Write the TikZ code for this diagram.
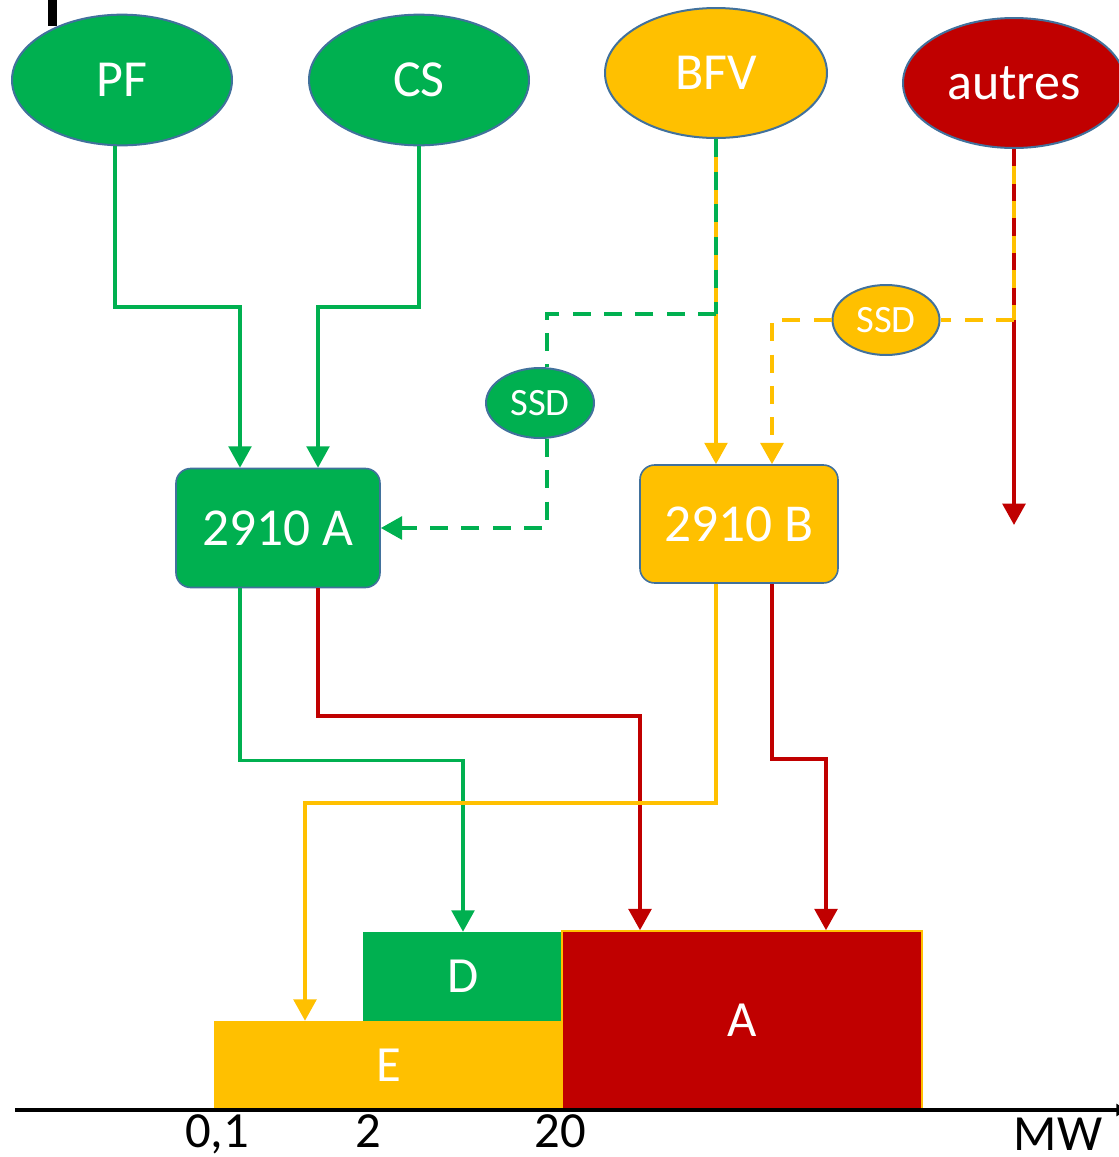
\documentclass[tikz,border=0pt]{standalone}
\usepackage{fontspec}
\setmainfont{Carlito}
\usetikzlibrary{shapes.geometric,arrows.meta,calc}
\definecolor{cgreen}{HTML}{00B050}
\definecolor{cyellow}{HTML}{FFC000}
\definecolor{cred}{HTML}{C00000}
\definecolor{cborder}{HTML}{41719C}
\begin{document}
\begin{tikzpicture}[x=0.75pt,y=-0.75pt,
  oval/.style={ellipse,draw=cborder,line width=1.5pt,text=white,inner sep=0pt,
    minimum width=165pt,minimum height=98pt,font=\fontsize{39}{42}\selectfont},
  ssd/.style={ellipse,draw=cborder,line width=1.5pt,text=white,inner sep=0pt,
    minimum width=81pt,minimum height=52.5pt,font=\fontsize{29}{32}\selectfont},
  regbox/.style={rectangle,rounded corners=11pt,draw=cborder,line width=1.2pt,text=white,
    inner sep=0pt,font=\fontsize{40}{44}\selectfont},
  blk/.style={rectangle,inner sep=0pt,text=white,font=\fontsize{38}{40}\selectfont},
  axlbl/.style={anchor=base,inner sep=0pt,text=black,font=\fontsize{38}{40}\selectfont},
  tip/.style={-{Triangle[width=17pt,length=16pt]}},
  gline/.style={draw=cgreen,line width=2.4pt},
  yline/.style={draw=cyellow,line width=2.6pt},
  rline/.style={draw=cred,line width=2.8pt},
  gdash/.style={draw=cgreen,line width=3.2pt,dash pattern=on 13.5pt off 10pt},
  ydash/.style={draw=cyellow,line width=3.2pt,dash pattern=on 13.5pt off 10pt},
]
\useasboundingbox (0,0) rectangle (1119,1157);

% black mark top-left
\fill[black] (48,0) rectangle (57,26);

% source ellipses
\node[oval,fill=cgreen] (PF) at (122,80) {PF};
\node[oval,fill=cgreen] (CS) at (419,80) {CS};
\node[oval,fill=cyellow,minimum width=166.5pt,minimum height=97.5pt] (BFV) at (716,73) {BFV};
\node[oval,fill=cred,minimum width=166.5pt,minimum height=97.5pt] (autres) at (1014,83) {autres};

% regulation boxes
\node[regbox,fill=cgreen,minimum width=153pt,minimum height=89.25pt] (A2910) at (278,528) {2910 A};
\node[regbox,fill=cyellow,minimum width=148.5pt,minimum height=88.5pt] (B2910) at (739,524) {2910 B};

% SSD ellipses
\node[ssd,fill=cgreen] (SSDg) at (540,403) {SSD};
\node[ssd,fill=cyellow,minimum width=80.25pt] (SSDo) at (886,320) {SSD};

% junction coordinates
\coordinate (jg) at (716,314);
\coordinate (jo) at (1014,320);
\coordinate (autresEnd) at (1014,525);

% PF, CS -> 2910 A
\draw[gline,tip] ($(PF.south)+(-7,0)$) |- (240,307) -- ($(A2910.north)+(-38,0)$);
\draw[gline,tip] (CS.south) |- (318,307) -- ($(A2910.north)+(40,0)$);

% BFV -> 2910 B (yellow solid, green dashes on top part)
\draw[yline,tip] (BFV.south) -- ($(B2910.north)+(-23,0)$);
\draw[draw=cgreen,line width=2.8pt,dash pattern=on 13.5pt off 11pt] (BFV.south) -- (jg);

% green SSD branch
\draw[gdash] (jg) -| ($(SSDg.north)+(7,0)$);
\draw[gdash,tip] ($(SSDg.south)+(7,0)$) |- (A2910.east);

% autres (red solid with yellow dashes on top part)
\draw[rline,tip] (autres.south) -- (autresEnd);
\draw[draw=cyellow,line width=2.6pt,dash pattern=on 13pt off 13pt,dash phase=13pt] (autres.south) -- (jo);

% orange SSD branch
\draw[ydash] (jo) -- (SSDo.east);
\draw[ydash,tip] (SSDo.west) -| ($(B2910.north)+(33,0)$);

% bottom blocks
\node[blk,fill=cyellow,minimum width=261.75pt,minimum height=66.75pt] (E) at (388.5,1065.5) {E};
\node[blk,fill=cgreen,minimum width=150pt,minimum height=66.75pt] (D) at (463,976.5) {D};
\node[blk,fill=cred,draw=cyellow,line width=1.2pt,minimum width=270pt,minimum height=134.25pt] (Ablk) at (742,1020.5) {A};

% 2910 A -> D, A
\draw[gline,tip] ($(A2910.south)+(-38,0)$) -- ++(0,172) -| (D.north);
\draw[rline,tip] ($(A2910.south)+(40,0)$) -- ++(0,128) -| ($(Ablk.north)+(-102,0)$);

% 2910 B -> E, A
\draw[yline,tip] ($(B2910.south)+(-23,0)$) -- ++(0,219) -| ($(E.north)+(-83.5,0)$);
\draw[rline,tip] ($(B2910.south)+(33,0)$) -- ++(0,175) -| ($(Ablk.north)+(84,0)$);

% axis
\coordinate (ax0) at (15,1110);
\coordinate (ax1) at (1127,1110);
\draw[black,line width=2.4pt,-{Triangle[width=9pt,length=8pt]}] (ax0) -- (ax1);
\node[axlbl] (l01) at (217,1147) {0,1};
\node[axlbl] (l2) at (368,1147) {2};
\node[axlbl] (l20) at (560,1147) {20};
\node[axlbl] (lMW) at (1058,1150) {MW};
\end{tikzpicture}
\end{document}
